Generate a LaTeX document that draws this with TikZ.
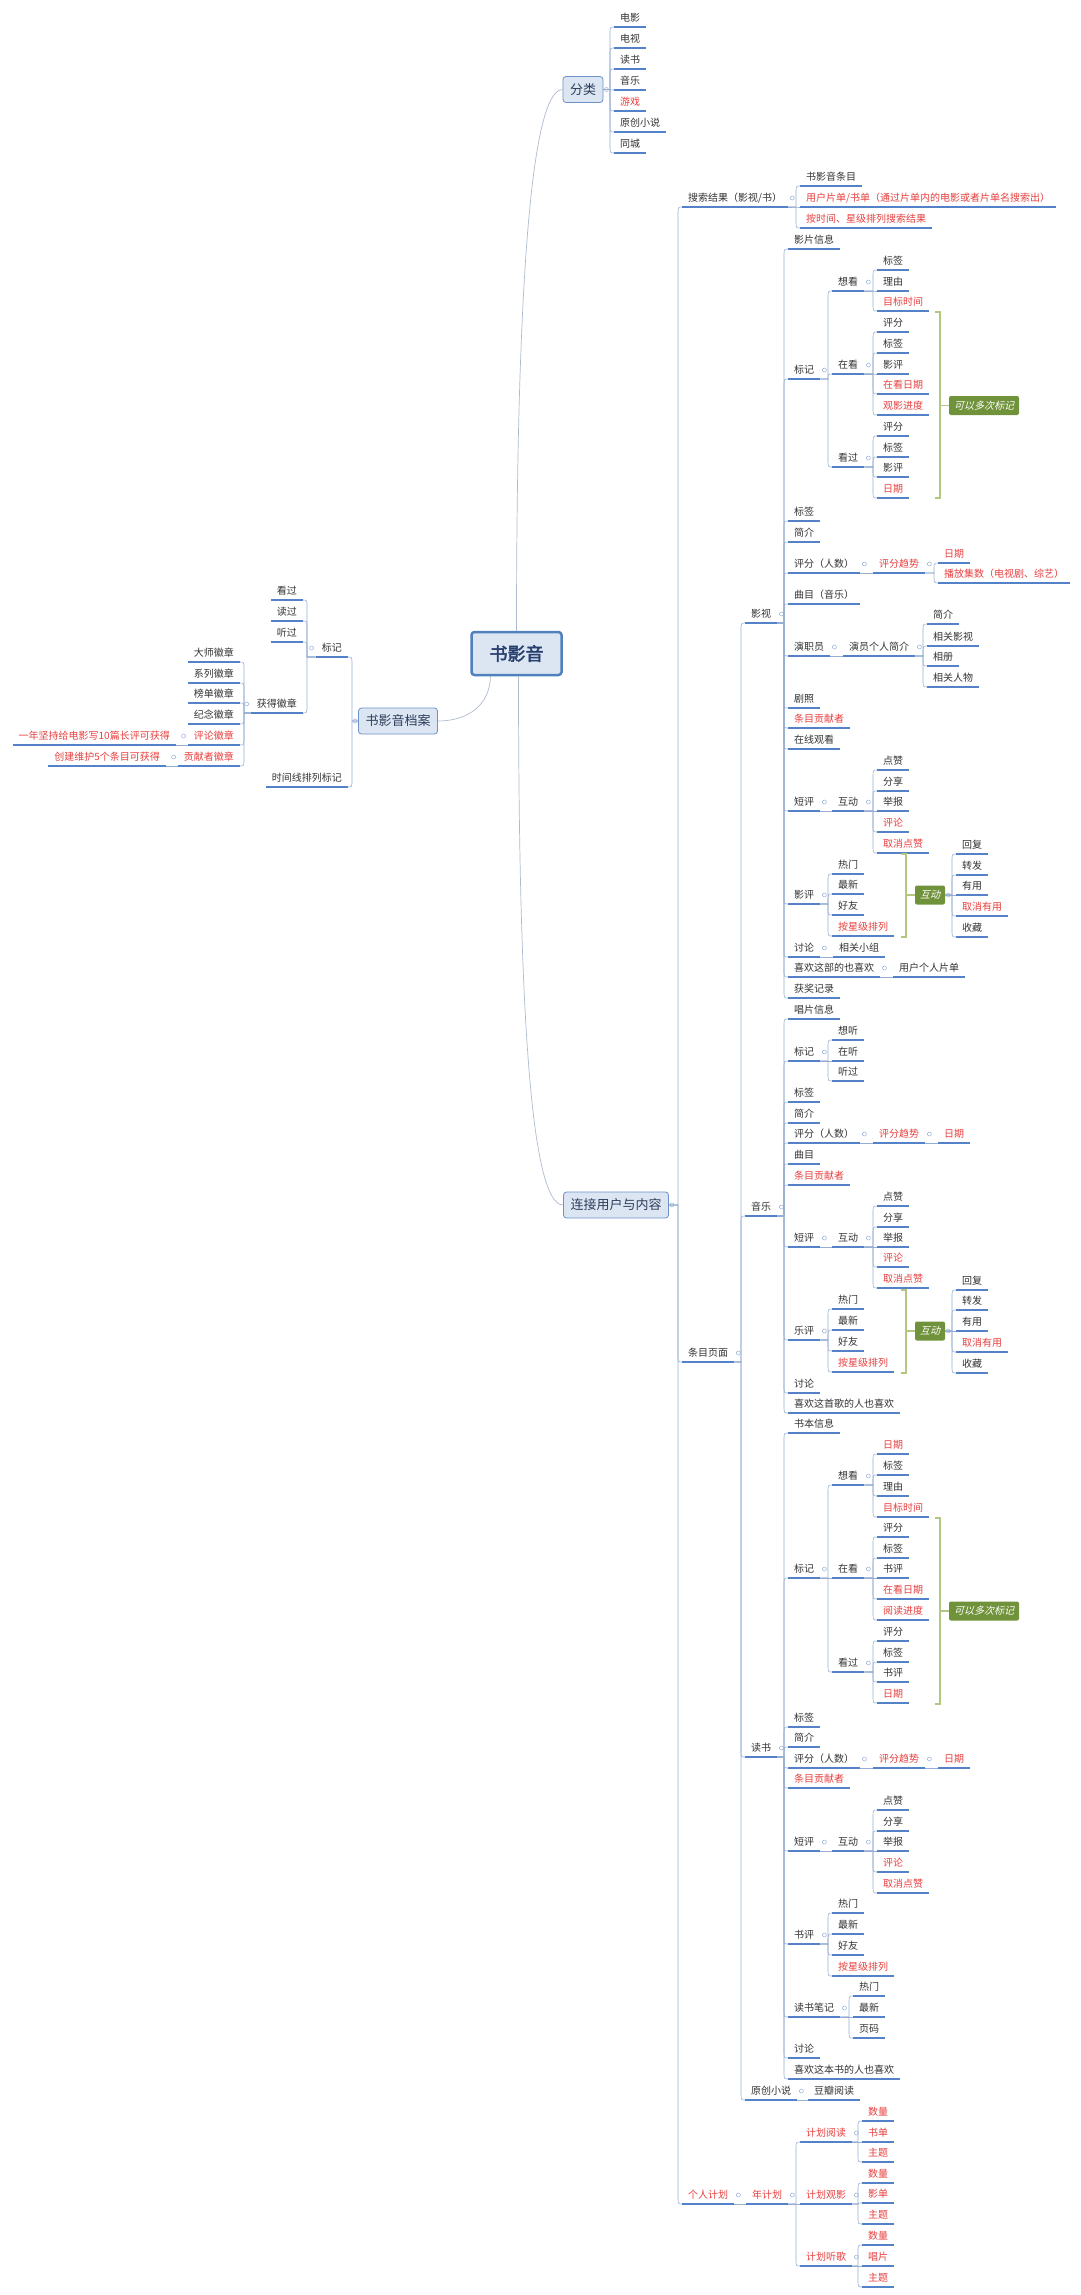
\documentclass[tikz,border=0pt]{standalone}
\usepackage{fontspec}
\setmainfont{Noto Sans CJK SC}
\newfontfamily\rootfont{Noto Sans CJK SC}[FakeBold=2.5]
\newfontfamily\notefont{Noto Sans CJK SC}[FakeSlant=0.25]
\usetikzlibrary{calc}

\definecolor{txt}{RGB}{51,51,51}
\definecolor{hotc}{RGB}{232,64,64}
\definecolor{ulc}{RGB}{84,130,200}
\definecolor{lnc}{RGB}{150,174,212}
\definecolor{trc}{RGB}{175,188,206}
\definecolor{boxfill}{RGB}{220,230,243}
\definecolor{boxline}{RGB}{110,145,200}
\definecolor{boxtxt}{RGB}{45,60,90}
\definecolor{rootline}{RGB}{79,129,189}
\definecolor{roottxt}{RGB}{40,64,110}
\definecolor{sumfill}{RGB}{112,146,58}
\definecolor{sumline}{RGB}{178,200,128}

\tikzset{
  uline/.style={draw=ulc,line width=1.3pt},
  tp/.style={anchor=south west,inner xsep=6pt,inner ysep=3.5pt,text height=9pt,text depth=2pt,
    font=\fontsize{10}{12}\selectfont,text=txt,
    append after command={(\tikzlastnode.south west) edge[uline] (\tikzlastnode.south east)}},
  tpl/.style={tp,anchor=south east},
  hot/.style={text=hotc},
  foldc/.style={circle,anchor=center,draw=lnc,line width=0.5pt,fill=white,minimum size=4pt,inner sep=0pt},
  foldr/.style={append after command={([shift={(4pt,9pt)}]\tikzlastnode.south east) node[foldc]{}}},
  foldl/.style={append after command={([shift={(-4pt,9pt)}]\tikzlastnode.south west) node[foldc]{}}},
  foldb/.style={append after command={([xshift=3pt]\tikzlastnode.east) node[foldc]{}}},
  foldbl/.style={append after command={([xshift=-3pt]\tikzlastnode.west) node[foldc]{}}},
  topbox/.style={draw=boxline,line width=0.8pt,fill=boxfill,rounded corners=3pt,minimum height=26pt,
    inner xsep=7pt,inner ysep=0pt,text=boxtxt,font=\fontsize{13}{15}\selectfont},
  rootbox/.style={topbox,draw=rootline,line width=2.5pt,minimum height=43pt,inner xsep=18pt,
    text=roottxt,font=\rootfont\fontsize{18}{20}\selectfont},
  sumbox/.style={fill=sumfill,rounded corners=2pt,text=white,minimum height=19pt,inner xsep=5pt,
    inner ysep=0pt,font=\notefont\fontsize{10}{12}\selectfont},
  link/.style={draw=lnc,line width=0.6pt,to path={let \p1=(\tikztostart),\p2=(\tikztotarget),
    \n1={\x2-4},\n2={\y2+((\y1>\y2)-(\y1<\y2))*min(abs((\y1)-(\y2)),8)} in
    (\p1) -- (\n1,\y1) -- (\n1,\n2) .. controls (\n1,\y2) .. (\p2)}},
  linkl/.style={draw=lnc,line width=0.6pt,to path={let \p1=(\tikztostart),\p2=(\tikztotarget),
    \n1={\x2+4},\n2={\y2+((\y1>\y2)-(\y1<\y2))*min(abs((\y1)-(\y2)),8)} in
    (\p1) -- (\n1,\y1) -- (\n1,\n2) .. controls (\n1,\y2) .. (\p2)}},
  trunk/.style={draw=trc,line width=0.7pt},
  brk/.style={draw=sumline,line width=1.5pt}
}

\begin{document}
\begin{tikzpicture}[x=1pt,y=1pt]
\useasboundingbox (0,0) rectangle (1080,-2295);
\fill[white] (0,0) rectangle (1080,-2295);

\node[rootbox] (root) at (516.5,-653.5) {书影音};
\node[topbox,foldb] (fenlei) at (583,-89.5) {分类};
\node[topbox,foldbl] (dangan) at (398,-721) {书影音档案};
\node[topbox,foldb] (lianjie) at (616,-1205) {连接用户与内容};
\draw[trunk] (root.north) .. controls (516.5,-300) and (530,-89.5) .. (fenlei.west);
\draw[trunk] ([xshift=2pt]root.south) .. controls (518.5,-1000) and (530,-1205) .. (lianjie.west);
\draw[trunk] ([xshift=-26pt]root.south) .. controls (490,-705) and (468,-721) .. (dangan.east);

\node[tp] (fl1) at (614,-27) {电影};
\node[tp] (fl2) at (614,-48) {电视};
\node[tp] (fl3) at (614,-69) {读书};
\node[tp] (fl4) at (614,-90) {音乐};
\node[tp,hot] (fl5) at (614,-111) {游戏};
\node[tp] (fl6) at (614,-132) {原创小说};
\node[tp] (fl7) at (614,-153) {同城};
\draw[link] (fenlei.east) edge (fl1.south west) edge (fl2.south west) edge (fl3.south west)
  edge (fl4.south west) edge (fl5.south west) edge (fl6.south west) edge (fl7.south west);

\node[tpl,foldl] (bj) at (348,-657) {标记};
\node[tpl] (bj1) at (303,-600) {看过};
\node[tpl] (bj2) at (303,-621) {读过};
\node[tpl] (bj3) at (303,-642) {听过};
\node[tpl,foldl] (hz) at (303,-713) {获得徽章};
\node[tpl] (hz1) at (240,-662) {大师徽章};
\node[tpl] (hz2) at (240,-683) {系列徽章};
\node[tpl] (hz3) at (240,-703) {榜单徽章};
\node[tpl] (hz4) at (240,-724) {纪念徽章};
\node[tpl,hot,foldl] (hz5) at (240,-745) {评论徽章};
\node[tpl,hot,foldl] (hz6) at (240,-766) {贡献者徽章};
\node[tpl,hot] (hz5a) at (176,-745) {一年坚持给电影写10篇长评可获得};
\node[tpl,hot] (hz6a) at (166,-766) {创建维护5个条目可获得};
\node[tpl] (sj) at (348,-787) {时间线排列标记};
\draw[linkl] (dangan.west) edge (bj.south east) edge (sj.south east);
\draw[linkl] (bj.south west) edge (bj1.south east) edge (bj2.south east) edge (bj3.south east) edge (hz.south east);
\draw[linkl] (hz.south west) edge (hz1.south east) edge (hz2.south east) edge (hz3.south east)
  edge (hz4.south east) edge (hz5.south east) edge (hz6.south east);
\draw[linkl] (hz5.south west) edge (hz5a.south east);
\draw[linkl] (hz6.south west) edge (hz6a.south east);

\node[tp,foldr] (ss) at (682,-207) {搜索结果（影视/书）};
\node[tp,foldr] (tm) at (682,-1362) {条目页面};
\node[tp,hot,foldr] (gr) at (682,-2204) {个人计划};
\draw[link] (lianjie.east) edge (ss.south west) edge (tm.south west) edge (gr.south west);
\node[tp] (ss1) at (800,-186) {书影音条目};
\node[tp,hot] (ss2) at (800,-207) {用户片单/书单（通过片单内的电影或者片单名搜索出）};
\node[tp,hot] (ss3) at (800,-228) {按时间、星级排列搜索结果};
\draw[link] (ss.south east) edge (ss1.south west) edge (ss2.south west) edge (ss3.south west);

\node[tp,foldr] (ys) at (745,-623) {影视};
\node[tp,foldr] (yy) at (745,-1216) {音乐};
\node[tp,foldr] (dsh) at (745,-1757) {读书};
\node[tp,foldr] (yc) at (745,-2100) {原创小说};
\draw[link] (tm.south east) edge (ys.south west) edge (yy.south west) edge (dsh.south west) edge (yc.south west);

\node[tp] (a1) at (788,-249) {影片信息};
\node[tp,foldr] (a2) at (788,-379) {标记};
\node[tp,foldr] (a21) at (832,-291) {想看};
\node[tp] (a211) at (877,-270) {标签};
\node[tp] (a212) at (877,-291) {理由};
\node[tp,hot] (a213) at (877,-311) {目标时间};
\node[tp,foldr] (a22) at (832,-374) {在看};
\node[tp] (a221) at (877,-332) {评分};
\node[tp] (a222) at (877,-353) {标签};
\node[tp] (a223) at (877,-374) {影评};
\node[tp,hot] (a224) at (877,-394) {在看日期};
\node[tp,hot] (a225) at (877,-415) {观影进度};
\node[tp,foldr] (a23) at (832,-467) {看过};
\node[tp] (a231) at (877,-436) {评分};
\node[tp] (a232) at (877,-457) {标签};
\node[tp] (a233) at (877,-477) {影评};
\node[tp,hot] (a234) at (877,-498) {日期};
\node[sumbox] (s1) at (984,-405.5) {可以多次标记};
\node[tp] (a3) at (788,-521) {标签};
\node[tp] (a4) at (788,-542) {简介};
\node[tp,foldr] (a5) at (788,-573) {评分（人数）};
\node[tp,hot,foldr] (a51) at (873,-573) {评分趋势};
\node[tp,hot] (a511) at (938,-563) {日期};
\node[tp,hot] (a512) at (938,-583) {播放集数（电视剧、综艺）};
\node[tp] (a6) at (788,-604) {曲目（音乐）};
\node[tp,foldr] (a7) at (788,-656) {演职员};
\node[tp,foldr] (a71) at (843,-656) {演员个人简介};
\node[tp] (a711) at (927,-624) {简介};
\node[tp] (a712) at (927,-646) {相关影视};
\node[tp] (a713) at (927,-666) {相册};
\node[tp] (a714) at (927,-687) {相关人物};
\node[tp] (a8) at (788,-708) {剧照};
\node[tp,hot] (a9) at (788,-728) {条目贡献者};
\node[tp] (a10) at (788,-749) {在线观看};
\node[tp,foldr] (a11) at (788,-811) {短评};
\node[tp,foldr] (a111) at (832,-811) {互动};
\node[tp] (a1111) at (877,-770) {点赞};
\node[tp] (a1112) at (877,-791) {分享};
\node[tp] (a1113) at (877,-811) {举报};
\node[tp,hot] (a1114) at (877,-832) {评论};
\node[tp,hot] (a1115) at (877,-853) {取消点赞};
\node[tp,foldr] (a12) at (788,-904) {影评};
\node[tp] (a121) at (832,-874) {热门};
\node[tp] (a122) at (832,-894) {最新};
\node[tp] (a123) at (832,-915) {好友};
\node[tp,hot] (a124) at (832,-936) {按星级排列};
\node[sumbox,foldb] (s2) at (930,-895) {互动};
\node[tp] (s21) at (956,-854) {回复};
\node[tp] (s22) at (956,-875) {转发};
\node[tp] (s23) at (956,-895) {有用};
\node[tp,hot] (s24) at (956,-916) {取消有用};
\node[tp] (s25) at (956,-937) {收藏};
\node[tp,foldr] (a13) at (788,-957) {讨论};
\node[tp] (a131) at (833,-957) {相关小组};
\node[tp,foldr] (a14) at (788,-977) {喜欢这部的也喜欢};
\node[tp] (a141) at (893,-977) {用户个人片单};
\node[tp] (a15) at (788,-998) {获奖记录};
\draw[link] (ys.south east) edge (a1.south west) edge (a2.south west) edge (a3.south west) edge (a4.south west)
  edge (a5.south west) edge (a6.south west) edge (a7.south west) edge (a8.south west) edge (a9.south west)
  edge (a10.south west) edge (a11.south west) edge (a12.south west) edge (a13.south west)
  edge (a14.south west) edge (a15.south west);
\draw[link] (a2.south east) edge (a21.south west) edge (a22.south west) edge (a23.south west);
\draw[link] (a21.south east) edge (a211.south west) edge (a212.south west) edge (a213.south west);
\draw[link] (a22.south east) edge (a221.south west) edge (a222.south west) edge (a223.south west)
  edge (a224.south west) edge (a225.south west);
\draw[link] (a23.south east) edge (a231.south west) edge (a232.south west) edge (a233.south west) edge (a234.south west);
\draw[link] (a5.south east) edge (a51.south west);
\draw[link] (a51.south east) edge (a511.south west) edge (a512.south west);
\draw[link] (a7.south east) edge (a71.south west);
\draw[link] (a71.south east) edge (a711.south west) edge (a712.south west) edge (a713.south west) edge (a714.south west);
\draw[link] (a11.south east) edge (a111.south west);
\draw[link] (a111.south east) edge (a1111.south west) edge (a1112.south west) edge (a1113.south west)
  edge (a1114.south west) edge (a1115.south west);
\draw[link] (a12.south east) edge (a121.south west) edge (a122.south west) edge (a123.south west) edge (a124.south west);
\draw[link] (s2.east) edge (s21.south west) edge (s22.south west) edge (s23.south west) edge (s24.south west) edge (s25.south west);
\draw[link] (a13.south east) edge (a131.south west);
\draw[link] (a14.south east) edge (a141.south west);
\draw[brk] (935,-312) -- (940,-312) -- (940,-498) -- (935,-498);
\draw[brk] (940,-405.5) -- (s1.west);
\draw[brk] (901,-854) -- (906,-854) -- (906,-937) -- (901,-937);
\draw[brk] (906,-895) -- (s2.west);

\node[tp] (b1) at (788,-1019) {唱片信息};
\node[tp,foldr] (b2) at (788,-1061) {标记};
\node[tp] (b21) at (832,-1040) {想听};
\node[tp] (b22) at (832,-1061) {在听};
\node[tp] (b23) at (832,-1081) {听过};
\node[tp] (b3) at (788,-1102) {标签};
\node[tp] (b4) at (788,-1123) {简介};
\node[tp,foldr] (b5) at (788,-1143) {评分（人数）};
\node[tp,hot,foldr] (b51) at (873,-1143) {评分趋势};
\node[tp,hot] (b511) at (938,-1143) {日期};
\node[tp] (b6) at (788,-1164) {曲目};
\node[tp,hot] (b7) at (788,-1185) {条目贡献者};
\node[tp,foldr] (b8) at (788,-1247) {短评};
\node[tp,foldr] (b81) at (832,-1247) {互动};
\node[tp] (b811) at (877,-1206) {点赞};
\node[tp] (b812) at (877,-1227) {分享};
\node[tp] (b813) at (877,-1247) {举报};
\node[tp,hot] (b814) at (877,-1267) {评论};
\node[tp,hot] (b815) at (877,-1288) {取消点赞};
\node[tp,foldr] (b9) at (788,-1340) {乐评};
\node[tp] (b91) at (832,-1309) {热门};
\node[tp] (b92) at (832,-1330) {最新};
\node[tp] (b93) at (832,-1351) {好友};
\node[tp,hot] (b94) at (832,-1372) {按星级排列};
\node[sumbox,foldb] (s3) at (930,-1331) {互动};
\node[tp] (s31) at (956,-1290) {回复};
\node[tp] (s32) at (956,-1310) {转发};
\node[tp] (s33) at (956,-1331) {有用};
\node[tp,hot] (s34) at (956,-1352) {取消有用};
\node[tp] (s35) at (956,-1373) {收藏};
\node[tp] (b10) at (788,-1393) {讨论};
\node[tp] (b11) at (788,-1413) {喜欢这首歌的人也喜欢};
\draw[link] (yy.south east) edge (b1.south west) edge (b2.south west) edge (b3.south west) edge (b4.south west)
  edge (b5.south west) edge (b6.south west) edge (b7.south west) edge (b8.south west) edge (b9.south west)
  edge (b10.south west) edge (b11.south west);
\draw[link] (b2.south east) edge (b21.south west) edge (b22.south west) edge (b23.south west);
\draw[link] (b5.south east) edge (b51.south west);
\draw[link] (b51.south east) edge (b511.south west);
\draw[link] (b8.south east) edge (b81.south west);
\draw[link] (b81.south east) edge (b811.south west) edge (b812.south west) edge (b813.south west)
  edge (b814.south west) edge (b815.south west);
\draw[link] (b9.south east) edge (b91.south west) edge (b92.south west) edge (b93.south west) edge (b94.south west);
\draw[link] (s3.east) edge (s31.south west) edge (s32.south west) edge (s33.south west) edge (s34.south west) edge (s35.south west);
\draw[brk] (901,-1290) -- (906,-1290) -- (906,-1373) -- (901,-1373);
\draw[brk] (906,-1331) -- (s3.west);

\node[tp] (c1) at (788,-1433) {书本信息};
\node[tp,foldr] (c2) at (788,-1578) {标记};
\node[tp,foldr] (c21) at (832,-1485) {想看};
\node[tp,hot] (c211) at (877,-1454) {日期};
\node[tp] (c212) at (877,-1475) {标签};
\node[tp] (c213) at (877,-1496) {理由};
\node[tp,hot] (c214) at (877,-1517) {目标时间};
\node[tp,foldr] (c22) at (832,-1578) {在看};
\node[tp] (c221) at (877,-1537) {评分};
\node[tp] (c222) at (877,-1558) {标签};
\node[tp] (c223) at (877,-1578) {书评};
\node[tp,hot] (c224) at (877,-1599) {在看日期};
\node[tp,hot] (c225) at (877,-1620) {阅读进度};
\node[tp,foldr] (c23) at (832,-1672) {看过};
\node[tp] (c231) at (877,-1641) {评分};
\node[tp] (c232) at (877,-1662) {标签};
\node[tp] (c233) at (877,-1682) {书评};
\node[tp,hot] (c234) at (877,-1703) {日期};
\node[sumbox] (s4) at (984,-1611) {可以多次标记};
\node[tp] (c3) at (788,-1727) {标签};
\node[tp] (c4) at (788,-1747) {简介};
\node[tp,foldr] (c5) at (788,-1768) {评分（人数）};
\node[tp,hot,foldr] (c51) at (873,-1768) {评分趋势};
\node[tp,hot] (c511) at (938,-1768) {日期};
\node[tp,hot] (c6) at (788,-1788) {条目贡献者};
\node[tp,foldr] (c7) at (788,-1851) {短评};
\node[tp,foldr] (c71) at (832,-1851) {互动};
\node[tp] (c711) at (877,-1810) {点赞};
\node[tp] (c712) at (877,-1831) {分享};
\node[tp] (c713) at (877,-1851) {举报};
\node[tp,hot] (c714) at (877,-1872) {评论};
\node[tp,hot] (c715) at (877,-1893) {取消点赞};
\node[tp,foldr] (c8) at (788,-1944) {书评};
\node[tp] (c81) at (832,-1913) {热门};
\node[tp] (c82) at (832,-1934) {最新};
\node[tp] (c83) at (832,-1955) {好友};
\node[tp,hot] (c84) at (832,-1976) {按星级排列};
\node[tp,foldr] (c9) at (788,-2017) {读书笔记};
\node[tp] (c91) at (853,-1996) {热门};
\node[tp] (c92) at (853,-2017) {最新};
\node[tp] (c93) at (853,-2038) {页码};
\node[tp] (c10) at (788,-2058) {讨论};
\node[tp] (c11) at (788,-2079) {喜欢这本书的人也喜欢};
\draw[link] (dsh.south east) edge (c1.south west) edge (c2.south west) edge (c3.south west) edge (c4.south west)
  edge (c5.south west) edge (c6.south west) edge (c7.south west) edge (c8.south west) edge (c9.south west)
  edge (c10.south west) edge (c11.south west);
\draw[link] (c2.south east) edge (c21.south west) edge (c22.south west) edge (c23.south west);
\draw[link] (c21.south east) edge (c211.south west) edge (c212.south west) edge (c213.south west) edge (c214.south west);
\draw[link] (c22.south east) edge (c221.south west) edge (c222.south west) edge (c223.south west)
  edge (c224.south west) edge (c225.south west);
\draw[link] (c23.south east) edge (c231.south west) edge (c232.south west) edge (c233.south west) edge (c234.south west);
\draw[link] (c5.south east) edge (c51.south west);
\draw[link] (c51.south east) edge (c511.south west);
\draw[link] (c7.south east) edge (c71.south west);
\draw[link] (c71.south east) edge (c711.south west) edge (c712.south west) edge (c713.south west)
  edge (c714.south west) edge (c715.south west);
\draw[link] (c8.south east) edge (c81.south west) edge (c82.south west) edge (c83.south west) edge (c84.south west);
\draw[link] (c9.south east) edge (c91.south west) edge (c92.south west) edge (c93.south west);
\draw[brk] (935,-1518) -- (940,-1518) -- (940,-1704) -- (935,-1704);
\draw[brk] (940,-1611) -- (s4.west);

\node[tp] (yc1) at (808,-2100) {豆瓣阅读};
\draw[link] (yc.south east) edge (yc1.south west);

\node[tp,hot,foldr] (gr1) at (746,-2204) {年计划};
\node[tp,hot,foldr] (gr11) at (800,-2142) {计划阅读};
\node[tp,hot] (gr111) at (862,-2121) {数量};
\node[tp,hot] (gr112) at (862,-2142) {书单};
\node[tp,hot] (gr113) at (862,-2162) {主题};
\node[tp,hot,foldr] (gr12) at (800,-2204) {计划观影};
\node[tp,hot] (gr121) at (862,-2183) {数量};
\node[tp,hot] (gr122) at (862,-2203) {影单};
\node[tp,hot] (gr123) at (862,-2224) {主题};
\node[tp,hot,foldr] (gr13) at (800,-2266) {计划听歌};
\node[tp,hot] (gr131) at (862,-2245) {数量};
\node[tp,hot] (gr132) at (862,-2266) {唱片};
\node[tp,hot] (gr133) at (862,-2287) {主题};
\draw[link] (gr.south east) edge (gr1.south west);
\draw[link] (gr1.south east) edge (gr11.south west) edge (gr12.south west) edge (gr13.south west);
\draw[link] (gr11.south east) edge (gr111.south west) edge (gr112.south west) edge (gr113.south west);
\draw[link] (gr12.south east) edge (gr121.south west) edge (gr122.south west) edge (gr123.south west);
\draw[link] (gr13.south east) edge (gr131.south west) edge (gr132.south west) edge (gr133.south west);
\end{tikzpicture}
\end{document}
